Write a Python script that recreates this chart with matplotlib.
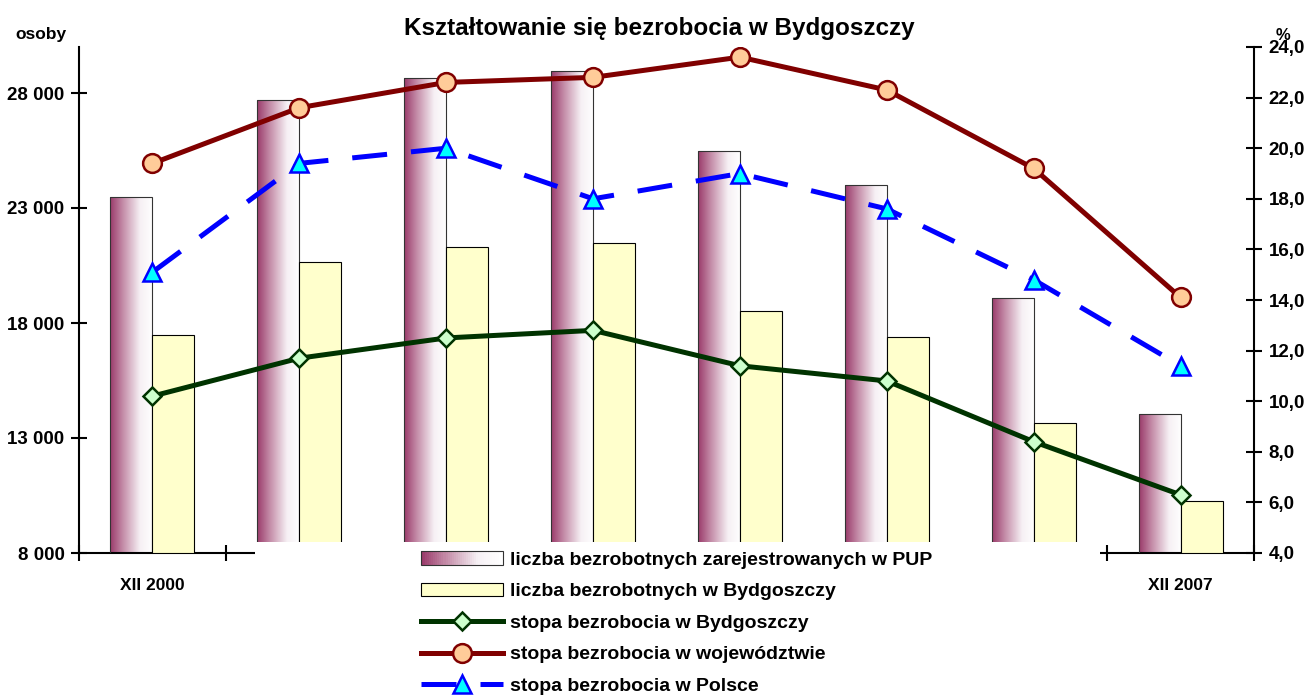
import numpy as np
import matplotlib
matplotlib.use('Agg')
import matplotlib.pyplot as plt
from matplotlib.patches import Rectangle
from matplotlib.legend_handler import HandlerBase
from matplotlib.colors import LinearSegmentedColormap

categories = ['XII 2000', 'XII 2001', 'XII 2002', 'XII 2003',
              'XII 2004', 'XII 2005', 'XII 2006', 'XII 2007']
pup = [23500, 27700, 28650, 28950, 25500, 24000, 19100, 14050]
bydg_count = [17480, 20650, 21300, 21480, 18520, 17390, 13650, 10260]
rate_bydg = [10.2, 11.7, 12.5, 12.8, 11.4, 10.8, 8.4, 6.3]
rate_woj = [19.4, 21.6, 22.6, 22.8, 23.6, 22.3, 19.2, 14.1]
rate_pl = [15.1, 19.4, 20.0, 18.0, 19.0, 17.6, 14.8, 11.4]
left_ticks = [8000, 13000, 18000, 23000, 28000]
right_ticks = [4, 6, 8, 10, 12, 14, 16, 18, 20, 22, 24]
labels = ['liczba bezrobotnych zarejestrowanych w PUP',
          'liczba bezrobotnych w Bydgoszczy',
          'stopa bezrobocia w Bydgoszczy',
          'stopa bezrobocia w województwie',
          'stopa bezrobocia w Polsce']

plt.rcParams['font.family'] = ['Liberation Sans', 'DejaVu Sans']
plt.rcParams['font.weight'] = 'bold'

grad_cmap = LinearSegmentedColormap.from_list(
    'g', [(0.0, '#9a3a6a'), (0.3, '#c48ca8'), (0.7, '#f6f0f4'), (1.0, '#ffffff')])

fig = plt.figure(figsize=(13.08, 6.95), dpi=100)
L, R, B, T = 79/1308, 1254/1308, 1-553/695, 1-47/695
ax = fig.add_axes([L, B, R-L, T-B])
ax2 = ax.twinx()

ylo, yhi = 8000, 30000
x = np.arange(len(categories))
bw = 0.286
bars1 = ax.bar(x - bw/2, np.subtract(pup, ylo), bw, bottom=ylo, facecolor='none',
               edgecolor='#333333', linewidth=0.8, zorder=3)
bars2 = ax.bar(x + bw/2, np.subtract(bydg_count, ylo), bw, bottom=ylo, facecolor='#FFFFCC',
               edgecolor='black', linewidth=0.8, zorder=3)
grad = np.linspace(0, 1, 256).reshape(1, -1)
for b in bars1:
    x0, y0, w, h = b.get_x(), b.get_y(), b.get_width(), b.get_height()
    im = ax.imshow(grad, extent=[x0, x0+w, y0, y0+h], aspect='auto', cmap=grad_cmap,
                   zorder=2.5, interpolation='bilinear')
    im.set_clip_path(b)

ax.set_xlim(-0.5, len(categories)-0.5)
ax.set_ylim(ylo, yhi)
ax.set_yticks(left_ticks)
ax.set_yticklabels([f'{v:,}'.replace(',', ' ') for v in left_ticks])
ax.set_xticks(x)
ax.set_xticklabels([c if i in (0, len(categories)-1) else '' for i, c in enumerate(categories)])
ax.set_xticks(np.arange(len(categories)+1) - 0.5, minor=True)
ax.tick_params(axis='x', which='major', length=0, pad=18, labelsize=12.5)
ax.tick_params(axis='x', which='minor', direction='inout', length=11, width=1.5)
ax.tick_params(axis='y', direction='inout', length=11, width=1.5, labelsize=13.5, pad=5)
for s in ['top', 'right']:
    ax.spines[s].set_visible(False)
for s in ['left', 'bottom']:
    ax.spines[s].set_linewidth(1.5)

l3, = ax2.plot(x, rate_bydg, color='#003300', lw=3.6, marker='D', ms=9,
               mfc='#CCFFCC', mec='#003300', mew=1.8, zorder=4)
l4, = ax2.plot(x, rate_woj, color='#800000', lw=3.6, marker='o', ms=13.5,
               mfc='#FFCC99', mec='#800000', mew=1.8, zorder=4)
l5, = ax2.plot(x, rate_pl, color='#0000FF', lw=3.6, marker='^', ms=13,
               mfc='#00FFFF', mec='#0000FF', mew=1.8, zorder=4, dashes=(7, 4.8))
ax2.set_ylim(4, 24)
ax2.set_yticks(right_ticks)
ax2.set_yticklabels([f'{v:.1f}'.replace('.', ',') for v in right_ticks])
ax2.tick_params(axis='y', direction='inout', length=11, width=1.5, labelsize=13.5, pad=5)
for s in ['top', 'left', 'bottom']:
    ax2.spines[s].set_visible(False)
ax2.spines['right'].set_linewidth(1.5)

fig.text(659/1308, 1-28/695, 'Kształtowanie się bezrobocia w Bydgoszczy',
         ha='center', va='center', fontsize=17.5, fontweight='bold')
fig.text(41/1308, 1-35/695, 'osoby', ha='center', va='center', fontsize=12.5)
fig.text(1283/1308, 1-36/695, '%', ha='center', va='center', fontsize=12)

# white legend area
fig.patches.append(Rectangle((255/1308, 0), 845/1308, 153/695, transform=fig.transFigure,
                             facecolor='white', edgecolor='none', zorder=5))


class GradHandler(HandlerBase):
    def create_artists(self, legend, orig_handle, xd, yd, width, height, fontsize, trans):
        arts = []
        n = 40
        for i in range(n):
            r = Rectangle((xd + width*i/n, yd), width/n + 0.3, height,
                          facecolor=grad_cmap(i/(n-1)), edgecolor='none', transform=trans)
            arts.append(r)
        arts.append(Rectangle((xd, yd), width, height, facecolor='none',
                              edgecolor='#333333', lw=0.8, transform=trans))
        return arts


h1 = Rectangle((0, 0), 1, 1)
h2 = Rectangle((0, 0), 1, 1, facecolor='#FFFFCC', edgecolor='black', lw=0.8)
leg = fig.legend([h1, h2, l3, l4, l5], labels, loc='upper left',
                 bbox_to_anchor=(421/1308, 1-551/695), frameon=False,
                 fontsize=14, handlelength=4.2, handleheight=0.7, handletextpad=0.4,
                 labelspacing=0.72, borderpad=0, borderaxespad=0,
                 handler_map={h1: GradHandler()})
leg.set_zorder(6)

fig.savefig('out.png', dpi=100)
